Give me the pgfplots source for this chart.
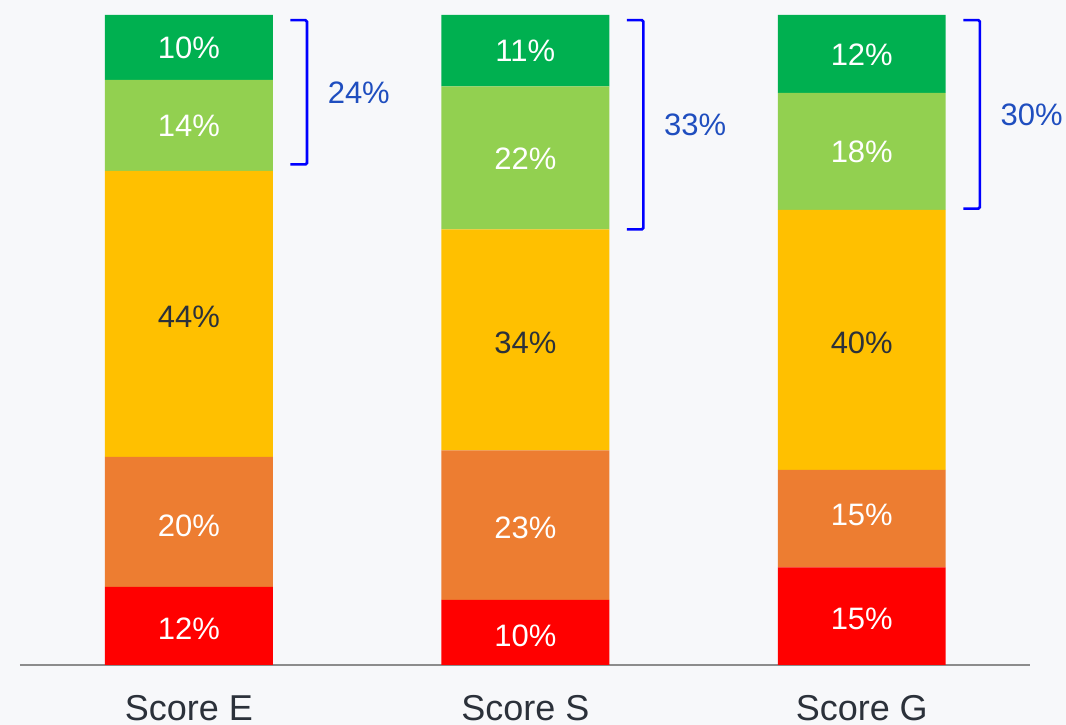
\documentclass[border=0pt]{standalone}
\usepackage{pgfplots}
\pgfplotsset{compat=1.18}
\usepackage{pgfplotstable}
\usepackage{fontspec}
\setmainfont{Liberation Sans}
\definecolor{bg}{HTML}{F7F8FA}
\definecolor{cRed}{HTML}{FF0000}
\definecolor{cOrange}{HTML}{ED7D31}
\definecolor{cYellow}{HTML}{FFC000}
\definecolor{cLGreen}{HTML}{92D050}
\definecolor{cGreen}{HTML}{00B050}
\definecolor{brk}{HTML}{0000FF}
\definecolor{brktxt}{HTML}{1F4EBF}
\definecolor{dtxt}{HTML}{2B313A}
\definecolor{axisgray}{HTML}{8C8C8C}

\pgfplotstableread{
x red orange yellow lgreen green
0 12 20 44 14 10
1 10 23 34 22 11
2 15 15 40 18 12
}\bars

% label positions (segment centres) and values
\pgfplotstableread{
x y v
0 5.5 12
0 21.4 20
0 82.9 14
0 94.9 10
1 4.4 10
1 21.1 23
1 77.9 22
1 94.5 11
2 7.1 15
2 23.1 15
2 78.9 18
2 93.9 12
}\whitelabels
\pgfplotstableread{
x y v
0 53.5 44
1 49.5 34
2 49.5 40
}\darklabels
% brackets: x, top, bottom, total
\pgfplotstableread{
x top bot v
0 99.2 77.0 24
1 99.2 67.0 33
2 99.2 70.2 30
}\brackets

\pgfplotsset{
  common/.style={
    scale only axis, width=1010pt, height=650pt,
    xmin=-0.502, xmax=2.499, ymin=0, ymax=100,
    at={(20pt,60pt)}, anchor=south west,
    clip=false,
  }
}

\begin{document}
\begin{tikzpicture}
\fill[bg] (0,0) rectangle (1066pt,725pt);
\begin{axis}[common,
  ybar stacked, bar width=168pt,
  axis x line*=bottom, axis y line=none,
  x axis line style={axisgray, line width=1.6pt, -},
  xtick={0,1,2}, xticklabels={Score E,Score S,Score G},
  major tick length=0pt,
  xticklabel style={font=\fontsize{36}{40}\selectfont, text=dtxt, anchor=base, yshift=-56pt, inner sep=0pt},
]
\addplot[fill=cRed, draw=none] table[x=x, y=red] {\bars};
\addplot[fill=cOrange, draw=none] table[x=x, y=orange] {\bars};
\addplot[fill=cYellow, draw=none] table[x=x, y=yellow] {\bars};
\addplot[fill=cLGreen, draw=none] table[x=x, y=lgreen] {\bars};
\addplot[fill=cGreen, draw=none] table[x=x, y=green] {\bars};
\end{axis}
\begin{axis}[common, hide axis, /pgf/number format/assume math mode=true]
\addplot[only marks, mark=none, point meta=explicit,
  nodes near coords={\pgfmathprintnumber{\pgfplotspointmeta}\%},
  every node near coord/.append style={anchor=center, text=white, font=\fontsize{31}{34}\selectfont}]
  table[x=x, y=y, meta=v] {\whitelabels};
\addplot[only marks, mark=none, point meta=explicit,
  nodes near coords={\pgfmathprintnumber{\pgfplotspointmeta}\%},
  every node near coord/.append style={anchor=center, text=dtxt, font=\fontsize{31}{34}\selectfont}]
  table[x=x, y=y, meta=v] {\darklabels};
\pgfplotsinvokeforeach{0,1,2}{
  \pgfplotstablegetelem{#1}{top}\of\brackets \edef\btop{\pgfplotsretval}
  \pgfplotstablegetelem{#1}{bot}\of\brackets \edef\bbot{\pgfplotsretval}
  \pgfplotstablegetelem{#1}{v}\of\brackets \edef\bval{\pgfplotsretval}
  \edef\temp{\noexpand\draw[brk, line width=2.6pt, rounded corners=1.5pt]
    (axis cs:#1+0.302,\btop) -- (axis cs:#1+0.351,\btop) -- (axis cs:#1+0.351,\bbot) -- (axis cs:#1+0.302,\bbot);
    \noexpand\node[text=brktxt, font=\noexpand\fontsize{31}{34}\noexpand\selectfont, anchor=center]
    at (axis cs:#1+0.505,{(\btop+\bbot)/2}) {\bval\noexpand\%};}
  \temp
}
\end{axis}
\useasboundingbox (0,0) rectangle (1066pt,725pt);
\end{tikzpicture}
\end{document}
